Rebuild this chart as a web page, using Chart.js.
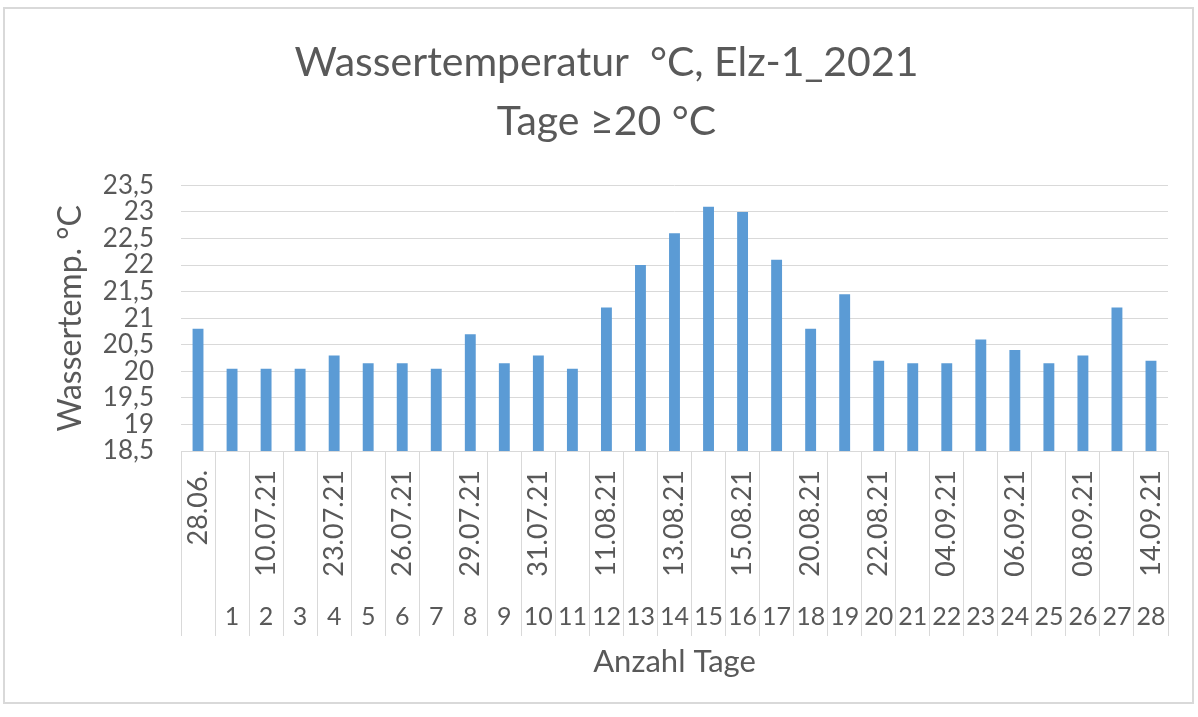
<!DOCTYPE html>
<html>
<head>
<meta charset="utf-8">
<script src="https://cdn.jsdelivr.net/npm/chart.js@4.4.1/dist/chart.umd.min.js"></script>
<style>
  html, body { margin: 0; padding: 0; background: #fff; }
  #wrap { position: relative; width: 1198px; height: 717px; overflow: hidden; }
  #frame { position: absolute; left: 3px; top: 7px; width: 1191px; height: 697px;
           border: 2px solid #d9d9d9; box-sizing: border-box; pointer-events: none; }
  canvas { position: absolute; left: 0; top: 0; }
</style>
</head>
<body>
<div id="wrap">
  <canvas id="chart" width="1198" height="717"></canvas>
  <div id="frame"></div>
</div>
<script>
// --- data ---
const dateLabels = ['28.06.', '', '10.07.21', '', '23.07.21', '', '26.07.21', '', '29.07.21', '',
  '31.07.21', '', '11.08.21', '', '13.08.21', '', '15.08.21', '', '20.08.21', '',
  '22.08.21', '', '04.09.21', '', '06.09.21', '', '08.09.21', '', '14.09.21'];
const dayLabels = ['', '1', '2', '3', '4', '5', '6', '7', '8', '9', '10', '11', '12', '13', '14',
  '15', '16', '17', '18', '19', '20', '21', '22', '23', '24', '25', '26', '27', '28'];
const tempValues = [20.8, 20.05, 20.05, 20.05, 20.3, 20.15, 20.15, 20.05, 20.7, 20.15,
  20.3, 20.05, 21.2, 22.0, 22.6, 23.1, 23.0, 22.1, 20.8, 21.45,
  20.2, 20.15, 20.15, 20.6, 20.4, 20.15, 20.3, 21.2, 20.2];
const yMin = 18.5, yMax = 23.5, yStep = 0.5;

const FONT = 'Lato, "Open Sans", sans-serif';
const TXT = '#595959';
const GRID = '#d9d9d9';

new Chart(document.getElementById('chart'), {
  type: 'bar',
  data: {
    labels: dateLabels,
    datasets: [{
      data: tempValues,
      backgroundColor: '#5b9bd5',
      barPercentage: 0.32,
      categoryPercentage: 1,
      xAxisID: 'x',
      yAxisID: 'y'
    }]
  },
  options: {
    responsive: false,
    animation: false,
    layout: { padding: { left: 45, right: 30, top: 10, bottom: 10 } },
    plugins: {
      legend: { display: false },
      tooltip: { enabled: false },
      title: {
        display: true,
        text: ['Wassertemperatur  °C, Elz-1_2021', 'Tage ≥20 °C'],
        color: TXT,
        font: { family: FONT, size: 41, weight: 'normal', lineHeight: 1.42 },
        padding: { top: 24, bottom: 35 }
      }
    },
    scales: {
      y: {
        min: yMin, max: yMax,
        border: { display: false },
        grid: { color: GRID, drawTicks: false },
        ticks: {
          stepSize: yStep,
          autoSkip: false,
          padding: 27,
          color: TXT,
          font: { family: FONT, size: 26 },
          callback: v => String(v).replace('.', ',')
        },
        title: {
          display: true, text: 'Wassertemp. °C', color: TXT,
          font: { family: FONT, size: 32 }, padding: { top: 6, bottom: 0 }
        },
        afterFit: s => { s.width = 136; }
      },
      x: {
        position: 'bottom',
        weight: 0,
        border: { display: true, color: GRID },
        grid: { offset: true, drawOnChartArea: false, color: GRID, tickLength: 148 },
        ticks: {
          autoSkip: false, minRotation: 90, maxRotation: 90,
          padding: -129, color: TXT, font: { family: FONT, size: 27 }
        },
        afterFit: s => { s.height = 148; }
      },
      x2: {
        type: 'category',
        labels: dayLabels,
        offset: true,
        position: 'bottom',
        weight: 1,
        border: { display: false },
        grid: { offset: true, drawOnChartArea: false, color: GRID, tickLength: 37 },
        ticks: {
          autoSkip: false, maxRotation: 0, minRotation: 0,
          padding: -34, color: TXT, font: { family: FONT, size: 25 }
        },
        title: {
          display: true, text: 'Anzahl Tage', color: TXT,
          font: { family: FONT, size: 31 }, padding: { top: 0, bottom: 26 }
        },
        afterFit: s => { s.height = 108; }
      }
    }
  }
});
</script>
</body>
</html>
